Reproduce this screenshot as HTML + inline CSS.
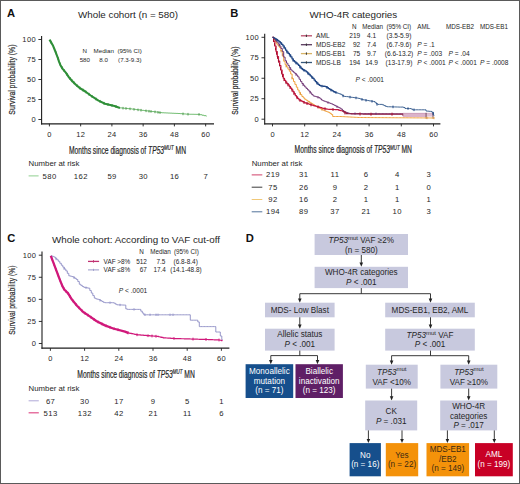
<!DOCTYPE html>
<html><head><meta charset="utf-8"><style>
html,body{margin:0;padding:0;background:#fff;}
#w{position:relative;width:518px;height:482px;border:1px solid #5a5a5a;overflow:hidden;background:#fff;}
svg{position:absolute;left:-1px;top:-1px;}
text{font-family:"Liberation Sans", sans-serif;}
</style></head><body><div id="w">
<svg width="520" height="484" viewBox="0 0 520 484" font-family='"Liberation Sans", sans-serif'>
<text x="7.00" y="17.20" font-size="11.2" text-anchor="start" fill="#111" font-weight="bold" >A</text>
<text x="128.00" y="18.40" font-size="9.8" text-anchor="middle" fill="#262626" >Whole cohort (n = 580)</text>
<line x1="41.60" y1="36.00" x2="41.60" y2="124.40" stroke="#1e1e1e" stroke-width="1.1"/>
<line x1="41.10" y1="123.80" x2="214.00" y2="123.80" stroke="#1e1e1e" stroke-width="1.2"/>
<line x1="38.40" y1="39.50" x2="41.60" y2="39.50" stroke="#1e1e1e" stroke-width="0.9"/>
<text x="35.95" y="42.00" font-size="7.5" text-anchor="end" fill="#262626" letter-spacing="0.35">100</text>
<line x1="38.40" y1="59.50" x2="41.60" y2="59.50" stroke="#1e1e1e" stroke-width="0.9"/>
<text x="35.95" y="62.00" font-size="7.5" text-anchor="end" fill="#262626" letter-spacing="0.35">75</text>
<line x1="38.40" y1="79.50" x2="41.60" y2="79.50" stroke="#1e1e1e" stroke-width="0.9"/>
<text x="35.95" y="82.00" font-size="7.5" text-anchor="end" fill="#262626" letter-spacing="0.35">50</text>
<line x1="38.40" y1="99.50" x2="41.60" y2="99.50" stroke="#1e1e1e" stroke-width="0.9"/>
<text x="35.95" y="102.00" font-size="7.5" text-anchor="end" fill="#262626" letter-spacing="0.35">25</text>
<line x1="38.40" y1="119.50" x2="41.60" y2="119.50" stroke="#1e1e1e" stroke-width="0.9"/>
<text x="35.95" y="122.00" font-size="7.5" text-anchor="end" fill="#262626" letter-spacing="0.35">0</text>
<line x1="49.40" y1="123.80" x2="49.40" y2="126.40" stroke="#1e1e1e" stroke-width="0.9"/>
<text x="49.58" y="137.20" font-size="7.5" text-anchor="middle" fill="#262626" letter-spacing="0.35">0</text>
<line x1="80.65" y1="123.80" x2="80.65" y2="126.40" stroke="#1e1e1e" stroke-width="0.9"/>
<text x="80.83" y="137.20" font-size="7.5" text-anchor="middle" fill="#262626" letter-spacing="0.35">12</text>
<line x1="111.90" y1="123.80" x2="111.90" y2="126.40" stroke="#1e1e1e" stroke-width="0.9"/>
<text x="112.08" y="137.20" font-size="7.5" text-anchor="middle" fill="#262626" letter-spacing="0.35">24</text>
<line x1="143.15" y1="123.80" x2="143.15" y2="126.40" stroke="#1e1e1e" stroke-width="0.9"/>
<text x="143.33" y="137.20" font-size="7.5" text-anchor="middle" fill="#262626" letter-spacing="0.35">36</text>
<line x1="174.40" y1="123.80" x2="174.40" y2="126.40" stroke="#1e1e1e" stroke-width="0.9"/>
<text x="174.58" y="137.20" font-size="7.5" text-anchor="middle" fill="#262626" letter-spacing="0.35">48</text>
<line x1="205.65" y1="123.80" x2="205.65" y2="126.40" stroke="#1e1e1e" stroke-width="0.9"/>
<text x="205.83" y="137.20" font-size="7.5" text-anchor="middle" fill="#262626" letter-spacing="0.35">60</text>
<text transform="translate(14.70,79.60) rotate(-90)" x="0" y="0" font-size="8.8" text-anchor="middle" fill="#262626" stroke="#262626" stroke-width="0.2" textLength="70.20" lengthAdjust="spacingAndGlyphs">Survival probability (%)</text>
<text x="69.00" y="154.00" font-size="10" fill="#262626" stroke="#262626" stroke-width="0.2" textLength="117.00" lengthAdjust="spacingAndGlyphs">Months since diagnosis of <tspan font-style="italic">TP53</tspan><tspan font-style="italic" font-size="6.6" dy="-3.6">MUT</tspan><tspan dy="3.6"> MN</tspan></text>
<polyline points="49.50,39.60 53.10,45.80 55.80,52.50 57.80,57.80 59.10,61.90 60.50,65.20 62.50,68.60 65.80,72.60 68.50,76.70 71.90,80.70 75.90,84.70 79.90,88.10 85.30,91.50 90.70,95.50 94.70,98.20 98.50,100.60 105.00,103.80 114.40,106.00 120.00,107.90" fill="none" stroke="#2f8f38" stroke-width="2.1" stroke-linejoin="round" />
<polyline points="120.00,107.90 122.00,107.90 122.00,108.09 124.00,108.09 124.00,108.28 126.00,108.28 126.00,108.46 128.00,108.46 128.00,108.65 130.00,108.65 130.00,108.85 132.00,108.85 132.00,109.10 134.00,109.10 134.00,109.35 136.00,109.35 136.00,109.60 138.00,109.60 138.00,109.85 140.00,109.85 140.00,110.10 142.00,110.10 142.00,110.35 144.00,110.35 144.00,110.60 146.00,110.60 146.00,110.85 148.00,110.85 148.00,111.10 150.00,111.10 150.00,111.34 152.00,111.34 152.00,111.57 154.00,111.57 154.00,111.81 156.00,111.81 156.00,112.04 158.00,112.04 158.00,112.33 160.00,112.33 160.00,112.64 162.00,112.64 162.00,112.77 164.00,112.77 164.00,112.87 166.00,112.87 166.00,112.96 168.00,112.96 168.00,113.05 170.00,113.05 170.00,113.14 172.00,113.14 172.00,113.24 174.00,113.24 174.00,113.33 176.00,113.33 176.00,113.42 178.00,113.42 178.00,113.52 180.00,113.52 180.00,113.67 182.00,113.67 182.00,113.81 184.00,113.81 184.00,113.96 186.00,113.96 186.00,114.11 188.00,114.11 188.00,114.21 190.00,114.21 190.00,114.25 192.00,114.25 192.00,114.28 194.00,114.28 194.00,114.32 196.00,114.32 196.00,114.35 198.00,114.35 198.00,114.39 200.00,114.39 200.00,114.71 202.00,114.71 202.00,115.22 204.00,115.22 204.00,115.67 206.00,115.67 206.00,116.09 206.50,116.09 206.50,116.20" fill="none" stroke="#66b866" stroke-width="0.9" stroke-linejoin="round" />
<line x1="51.00" y1="40.78" x2="51.00" y2="43.58" stroke="#2f8f38" stroke-width="1.0"/>
<line x1="53.50" y1="45.39" x2="53.50" y2="48.19" stroke="#2f8f38" stroke-width="1.0"/>
<line x1="56.00" y1="51.63" x2="56.00" y2="54.43" stroke="#2f8f38" stroke-width="1.0"/>
<line x1="58.00" y1="57.03" x2="58.00" y2="59.83" stroke="#2f8f38" stroke-width="1.0"/>
<line x1="60.00" y1="62.62" x2="60.00" y2="65.42" stroke="#2f8f38" stroke-width="1.0"/>
<line x1="62.00" y1="66.35" x2="62.00" y2="69.15" stroke="#2f8f38" stroke-width="1.0"/>
<line x1="64.00" y1="69.02" x2="64.00" y2="71.82" stroke="#2f8f38" stroke-width="1.0"/>
<line x1="67.00" y1="73.02" x2="67.00" y2="75.82" stroke="#2f8f38" stroke-width="1.0"/>
<line x1="70.00" y1="77.06" x2="70.00" y2="79.86" stroke="#2f8f38" stroke-width="1.0"/>
<line x1="72.00" y1="79.40" x2="72.00" y2="82.20" stroke="#2f8f38" stroke-width="1.0"/>
<line x1="74.00" y1="81.40" x2="74.00" y2="84.20" stroke="#2f8f38" stroke-width="1.0"/>
<line x1="77.00" y1="84.23" x2="77.00" y2="87.03" stroke="#2f8f38" stroke-width="1.0"/>
<line x1="80.00" y1="86.76" x2="80.00" y2="89.56" stroke="#2f8f38" stroke-width="1.0"/>
<line x1="83.00" y1="88.65" x2="83.00" y2="91.45" stroke="#2f8f38" stroke-width="1.0"/>
<line x1="86.00" y1="90.62" x2="86.00" y2="93.42" stroke="#2f8f38" stroke-width="1.0"/>
<line x1="89.00" y1="92.84" x2="89.00" y2="95.64" stroke="#2f8f38" stroke-width="1.0"/>
<line x1="92.00" y1="94.98" x2="92.00" y2="97.78" stroke="#2f8f38" stroke-width="1.0"/>
<line x1="96.00" y1="97.62" x2="96.00" y2="100.42" stroke="#2f8f38" stroke-width="1.0"/>
<line x1="100.00" y1="99.94" x2="100.00" y2="102.74" stroke="#2f8f38" stroke-width="1.0"/>
<line x1="104.00" y1="101.91" x2="104.00" y2="104.71" stroke="#2f8f38" stroke-width="1.0"/>
<line x1="108.00" y1="103.10" x2="108.00" y2="105.90" stroke="#2f8f38" stroke-width="1.0"/>
<line x1="112.00" y1="104.04" x2="112.00" y2="106.84" stroke="#2f8f38" stroke-width="1.0"/>
<line x1="116.00" y1="105.14" x2="116.00" y2="107.94" stroke="#2f8f38" stroke-width="1.0"/>
<line x1="123.00" y1="106.88" x2="123.00" y2="109.48" stroke="#3a8a3a" stroke-width="0.8"/>
<line x1="126.00" y1="107.16" x2="126.00" y2="109.76" stroke="#3a8a3a" stroke-width="0.8"/>
<line x1="130.00" y1="107.55" x2="130.00" y2="110.15" stroke="#3a8a3a" stroke-width="0.8"/>
<line x1="134.00" y1="108.05" x2="134.00" y2="110.65" stroke="#3a8a3a" stroke-width="0.8"/>
<line x1="138.00" y1="108.55" x2="138.00" y2="111.15" stroke="#3a8a3a" stroke-width="0.8"/>
<line x1="141.00" y1="108.92" x2="141.00" y2="111.52" stroke="#3a8a3a" stroke-width="0.8"/>
<line x1="146.00" y1="109.55" x2="146.00" y2="112.15" stroke="#3a8a3a" stroke-width="0.8"/>
<line x1="149.00" y1="109.92" x2="149.00" y2="112.52" stroke="#3a8a3a" stroke-width="0.8"/>
<line x1="151.00" y1="110.16" x2="151.00" y2="112.76" stroke="#3a8a3a" stroke-width="0.8"/>
<line x1="155.00" y1="110.62" x2="155.00" y2="113.22" stroke="#3a8a3a" stroke-width="0.8"/>
<line x1="158.00" y1="111.03" x2="158.00" y2="113.63" stroke="#3a8a3a" stroke-width="0.8"/>
<line x1="160.00" y1="111.34" x2="160.00" y2="113.94" stroke="#3a8a3a" stroke-width="0.8"/>
<line x1="183.00" y1="112.59" x2="183.00" y2="115.19" stroke="#3a8a3a" stroke-width="0.8"/>
<line x1="188.00" y1="112.91" x2="188.00" y2="115.51" stroke="#3a8a3a" stroke-width="0.8"/>
<line x1="199.00" y1="113.15" x2="199.00" y2="115.75" stroke="#3a8a3a" stroke-width="0.8"/>
<text x="84.80" y="53.20" font-size="6.2" text-anchor="middle" fill="#262626" >N</text>
<text x="103.70" y="53.20" font-size="6.2" text-anchor="middle" fill="#262626" >Median</text>
<text x="129.60" y="53.20" font-size="6.2" text-anchor="middle" fill="#262626" >(95% CI)</text>
<text x="84.80" y="61.60" font-size="6.2" text-anchor="middle" fill="#262626" >580</text>
<text x="103.60" y="61.60" font-size="6.2" text-anchor="middle" fill="#262626" >8.0</text>
<text x="129.80" y="61.60" font-size="6.2" text-anchor="middle" fill="#262626" >(7.3-9.3)</text>
<text x="28.60" y="166.30" font-size="7.8" text-anchor="start" fill="#262626" >Number at risk</text>
<line x1="28.60" y1="175.90" x2="38.60" y2="175.90" stroke="#8fcf8f" stroke-width="1.0"/>
<text x="49.60" y="178.90" font-size="7.7" text-anchor="middle" fill="#262626" letter-spacing="0.4">580</text>
<text x="80.85" y="178.90" font-size="7.7" text-anchor="middle" fill="#262626" letter-spacing="0.4">162</text>
<text x="112.10" y="178.90" font-size="7.7" text-anchor="middle" fill="#262626" letter-spacing="0.4">59</text>
<text x="143.35" y="178.90" font-size="7.7" text-anchor="middle" fill="#262626" letter-spacing="0.4">30</text>
<text x="174.60" y="178.90" font-size="7.7" text-anchor="middle" fill="#262626" letter-spacing="0.4">16</text>
<text x="205.85" y="178.90" font-size="7.7" text-anchor="middle" fill="#262626" letter-spacing="0.4">7</text>
<text x="230.20" y="17.40" font-size="11.2" text-anchor="start" fill="#111" font-weight="bold" >B</text>
<text x="353.40" y="17.70" font-size="9.8" text-anchor="middle" fill="#262626" >WHO-4R categories</text>
<line x1="264.70" y1="33.70" x2="264.70" y2="124.40" stroke="#1e1e1e" stroke-width="1.1"/>
<line x1="264.20" y1="123.80" x2="440.40" y2="123.80" stroke="#1e1e1e" stroke-width="1.2"/>
<line x1="261.50" y1="37.30" x2="264.70" y2="37.30" stroke="#1e1e1e" stroke-width="0.9"/>
<text x="259.05" y="39.80" font-size="7.5" text-anchor="end" fill="#262626" letter-spacing="0.35">100</text>
<line x1="261.50" y1="57.78" x2="264.70" y2="57.78" stroke="#1e1e1e" stroke-width="0.9"/>
<text x="259.05" y="60.28" font-size="7.5" text-anchor="end" fill="#262626" letter-spacing="0.35">75</text>
<line x1="261.50" y1="78.25" x2="264.70" y2="78.25" stroke="#1e1e1e" stroke-width="0.9"/>
<text x="259.05" y="80.75" font-size="7.5" text-anchor="end" fill="#262626" letter-spacing="0.35">50</text>
<line x1="261.50" y1="98.73" x2="264.70" y2="98.73" stroke="#1e1e1e" stroke-width="0.9"/>
<text x="259.05" y="101.23" font-size="7.5" text-anchor="end" fill="#262626" letter-spacing="0.35">25</text>
<line x1="261.50" y1="119.20" x2="264.70" y2="119.20" stroke="#1e1e1e" stroke-width="0.9"/>
<text x="259.05" y="121.70" font-size="7.5" text-anchor="end" fill="#262626" letter-spacing="0.35">0</text>
<line x1="272.50" y1="123.80" x2="272.50" y2="126.40" stroke="#1e1e1e" stroke-width="0.9"/>
<text x="272.68" y="137.20" font-size="7.5" text-anchor="middle" fill="#262626" letter-spacing="0.35">0</text>
<line x1="304.70" y1="123.80" x2="304.70" y2="126.40" stroke="#1e1e1e" stroke-width="0.9"/>
<text x="304.88" y="137.20" font-size="7.5" text-anchor="middle" fill="#262626" letter-spacing="0.35">12</text>
<line x1="336.90" y1="123.80" x2="336.90" y2="126.40" stroke="#1e1e1e" stroke-width="0.9"/>
<text x="337.08" y="137.20" font-size="7.5" text-anchor="middle" fill="#262626" letter-spacing="0.35">24</text>
<line x1="369.10" y1="123.80" x2="369.10" y2="126.40" stroke="#1e1e1e" stroke-width="0.9"/>
<text x="369.28" y="137.20" font-size="7.5" text-anchor="middle" fill="#262626" letter-spacing="0.35">36</text>
<line x1="401.30" y1="123.80" x2="401.30" y2="126.40" stroke="#1e1e1e" stroke-width="0.9"/>
<text x="401.48" y="137.20" font-size="7.5" text-anchor="middle" fill="#262626" letter-spacing="0.35">48</text>
<line x1="433.50" y1="123.80" x2="433.50" y2="126.40" stroke="#1e1e1e" stroke-width="0.9"/>
<text x="433.68" y="137.20" font-size="7.5" text-anchor="middle" fill="#262626" letter-spacing="0.35">60</text>
<text transform="translate(237.60,80.60) rotate(-90)" x="0" y="0" font-size="8.8" text-anchor="middle" fill="#262626" stroke="#262626" stroke-width="0.2" textLength="68.20" lengthAdjust="spacingAndGlyphs">Survival probability (%)</text>
<text x="294.60" y="153.20" font-size="10" fill="#262626" stroke="#262626" stroke-width="0.2" textLength="117.40" lengthAdjust="spacingAndGlyphs">Months since diagnosis of <tspan font-style="italic">TP53</tspan><tspan font-style="italic" font-size="6.6" dy="-3.6">MUT</tspan><tspan dy="3.6"> MN</tspan></text>
<rect x="402.80" y="113.00" width="23.30" height="4.10" fill="#dbb3ca"/>
<rect x="426.10" y="113.40" width="7.00" height="3.20" fill="#e2c2d4"/>
<line x1="402.80" y1="113.30" x2="433.00" y2="113.30" stroke="#c58fae" stroke-width="0.6"/>
<line x1="402.80" y1="113.60" x2="402.80" y2="115.80" stroke="#7a2040" stroke-width="0.8"/>
<line x1="426.10" y1="112.80" x2="426.10" y2="118.60" stroke="#5a3040" stroke-width="0.8"/>
<line x1="433.00" y1="112.80" x2="433.00" y2="118.60" stroke="#5a3040" stroke-width="0.8"/>
<polyline points="272.50,37.30 273.90,37.30 273.90,39.60 275.30,39.60 275.30,41.90 276.70,41.90 276.70,44.20 278.10,44.20 278.10,45.87 279.50,45.87 279.50,47.54 280.90,47.54 280.90,50.89 282.30,50.89 282.30,56.14 283.70,56.14 283.70,61.22 285.10,61.22 285.10,64.65 286.50,64.65 286.50,66.90 287.90,66.90 287.90,69.15 289.30,69.15 289.30,71.22 290.70,71.22 290.70,74.01 292.10,74.01 292.10,78.57 293.50,78.57 293.50,81.57 294.90,81.57 294.90,84.40 296.30,84.40 296.30,87.20 297.70,87.20 297.70,90.00 299.10,90.00 299.10,92.32 300.50,92.32 300.50,94.64 301.90,94.64 301.90,96.50 303.30,96.50 303.30,97.90 304.70,97.90 304.70,99.27 306.10,99.27 306.10,100.21 307.50,100.21 307.50,101.16 308.90,101.16 308.90,102.06 310.30,102.06 310.30,102.92 311.70,102.92 311.70,103.78 313.10,103.78 313.10,104.64 314.50,104.64 314.50,105.49 315.90,105.49 315.90,106.33 317.30,106.33 317.30,107.18 318.70,107.18 318.70,108.00 320.10,108.00 320.10,108.71 321.50,108.71 321.50,109.43 322.90,109.43 322.90,110.14 324.30,110.14 324.30,110.84 325.70,110.84 325.70,111.35 327.10,111.35 327.10,111.87 328.50,111.87 328.50,112.39 329.90,112.39 329.90,113.37 331.30,113.37 331.30,114.48 332.70,114.48 332.70,116.50 334.10,116.50 334.10,116.50 335.50,116.50 335.50,116.50 336.90,116.50 336.90,116.50 338.30,116.50 338.30,116.50 339.70,116.50 339.70,116.50 341.10,116.50 341.10,116.56 342.50,116.56 342.50,116.64 343.90,116.64 343.90,116.71 345.30,116.71 345.30,116.79 346.70,116.79 346.70,116.86 348.10,116.86 348.10,116.94 349.50,116.94 349.50,117.01 350.90,117.01 350.90,117.09 352.30,117.09 352.30,117.16 353.70,117.16 353.70,117.24 355.10,117.24 355.10,117.32 356.50,117.32 356.50,117.39 357.90,117.39 357.90,117.47 359.30,117.47 359.30,117.51 360.70,117.51 360.70,117.51 362.10,117.51 362.10,117.52 363.50,117.52 363.50,117.53 364.90,117.53 364.90,117.54 366.30,117.54 366.30,117.55 367.70,117.55 367.70,117.56 369.10,117.56 369.10,117.57 370.50,117.57 370.50,117.58 371.90,117.58 371.90,117.59 373.30,117.59 373.30,117.60 374.70,117.60 374.70,117.61 376.10,117.61 376.10,117.62 377.50,117.62 377.50,117.63 378.90,117.63 378.90,117.64 380.30,117.64 380.30,117.64 381.70,117.64 381.70,117.65 383.10,117.65 383.10,117.66 384.50,117.66 384.50,117.67 385.90,117.67 385.90,117.68 387.30,117.68 387.30,117.69 388.70,117.69 388.70,117.70 390.10,117.70 390.10,117.71 391.50,117.71 391.50,117.72 392.90,117.72 392.90,117.73 394.30,117.73 394.30,117.74 395.70,117.74 395.70,117.75 397.10,117.75 397.10,117.76 398.50,117.76 398.50,117.76 399.90,117.76 399.90,117.77 401.30,117.77 401.30,117.78 402.70,117.78 402.70,117.79 404.10,117.79 404.10,117.80 405.50,117.80 405.50,117.81 406.90,117.81 406.90,117.82 408.30,117.82 408.30,117.83 409.70,117.83 409.70,117.84 411.10,117.84 411.10,117.85 412.50,117.85 412.50,117.86 413.90,117.86 413.90,117.87 415.30,117.87 415.30,117.88 416.70,117.88 416.70,117.89 418.10,117.89 418.10,117.89 419.50,117.89 419.50,117.90 420.90,117.90 420.90,117.91 422.30,117.91 422.30,117.92 423.70,117.92 423.70,117.93 425.10,117.93 425.10,117.94 426.50,117.94 426.50,117.95 427.90,117.95 427.90,117.96 429.30,117.96 429.30,117.97 430.70,117.97 430.70,117.98 432.10,117.98 432.10,117.99 433.50,117.99 433.50,118.00 434.00,118.00 434.00,118.00" fill="none" stroke="#f0a23c" stroke-width="1.0" stroke-linejoin="round" />
<polyline points="272.50,37.30 273.90,37.30 273.90,38.91 275.30,38.91 275.30,40.51 276.70,40.51 276.70,42.12 278.10,42.12 278.10,43.80 279.50,43.80 279.50,45.93 280.90,45.93 280.90,48.43 282.30,48.43 282.30,51.60 283.70,51.60 283.70,57.12 285.10,57.12 285.10,60.73 286.50,60.73 286.50,63.20 287.90,63.20 287.90,65.36 289.30,65.36 289.30,67.62 290.70,67.62 290.70,69.88 292.10,69.88 292.10,71.17 293.50,71.17 293.50,72.30 294.90,72.30 294.90,73.60 296.30,73.60 296.30,75.00 297.70,75.00 297.70,76.83 299.10,76.83 299.10,79.24 300.50,79.24 300.50,81.43 301.90,81.43 301.90,83.50 303.30,83.50 303.30,85.23 304.70,85.23 304.70,86.90 306.10,86.90 306.10,88.40 307.50,88.40 307.50,89.80 308.90,89.80 308.90,91.20 310.30,91.20 310.30,92.89 311.70,92.89 311.70,94.59 313.10,94.59 313.10,95.92 314.50,95.92 314.50,96.33 315.90,96.33 315.90,96.74 317.30,96.74 317.30,97.15 318.70,97.15 318.70,97.67 320.10,97.67 320.10,98.86 321.50,98.86 321.50,100.06 322.90,100.06 322.90,100.77 324.30,100.77 324.30,101.29 325.70,101.29 325.70,101.80 327.10,101.80 327.10,102.32 328.50,102.32 328.50,102.82 329.90,102.82 329.90,103.33 331.30,103.33 331.30,103.85 332.70,103.85 332.70,104.58 334.10,104.58 334.10,105.31 335.50,105.31 335.50,106.04 336.90,106.04 336.90,106.75 338.30,106.75 338.30,107.45 339.70,107.45 339.70,108.15 341.10,108.15 341.10,109.16 342.50,109.16 342.50,110.48 343.90,110.48 343.90,111.73 345.30,111.73 345.30,112.19 346.70,112.19 346.70,112.65 348.10,112.65 348.10,113.11 349.50,113.11 349.50,113.57 350.90,113.57 350.90,113.61 352.30,113.61 352.30,113.62 353.70,113.62 353.70,113.62 355.10,113.62 355.10,113.63 356.50,113.63 356.50,113.64 357.90,113.64 357.90,113.65 359.30,113.65 359.30,113.65 360.70,113.65 360.70,113.66 362.10,113.66 362.10,113.67 363.50,113.67 363.50,113.68 364.90,113.68 364.90,113.69 366.30,113.69 366.30,113.69 367.70,113.69 367.70,113.70 369.10,113.70 369.10,113.71 370.50,113.71 370.50,113.72 371.90,113.72 371.90,113.73 373.30,113.73 373.30,113.73 374.70,113.73 374.70,113.74 376.10,113.74 376.10,113.75 377.50,113.75 377.50,113.76 378.90,113.76 378.90,113.77 380.30,113.77 380.30,113.77 381.70,113.77 381.70,113.78 383.10,113.78 383.10,113.79 384.50,113.79 384.50,113.80 385.90,113.80 385.90,113.80 387.30,113.80 387.30,113.81 388.70,113.81 388.70,113.82 390.10,113.82 390.10,113.83 391.50,113.83 391.50,113.84 392.90,113.84 392.90,113.84 394.30,113.84 394.30,113.85 395.70,113.85 395.70,113.86 397.10,113.86 397.10,113.87 398.50,113.87 398.50,113.88 399.90,113.88 399.90,113.88 401.30,113.88 401.30,113.89 402.70,113.89 402.70,113.90 402.80,113.90 402.80,113.90" fill="none" stroke="#6e3574" stroke-width="1.0" stroke-linejoin="round" />
<polyline points="272.50,37.30 273.70,37.30 273.70,41.25 274.90,41.25 274.90,46.11 276.10,46.11 276.10,51.60 277.30,51.60 277.30,56.53 278.50,56.53 278.50,61.18 279.70,61.18 279.70,65.54 280.90,65.54 280.90,70.06 282.10,70.06 282.10,74.33 283.30,74.33 283.30,78.25 284.50,78.25 284.50,80.38 285.70,80.38 285.70,82.16 286.90,82.16 286.90,83.61 288.10,83.61 288.10,84.95 289.30,84.95 289.30,86.48 290.50,86.48 290.50,88.11 291.70,88.11 291.70,89.73 292.90,89.73 292.90,91.66 294.10,91.66 294.10,93.65 295.30,93.65 295.30,95.63 296.50,95.63 296.50,97.09 297.70,97.09 297.70,98.51 298.90,98.51 298.90,99.85 300.10,99.85 300.10,100.45 301.30,100.45 301.30,101.05 302.50,101.05 302.50,101.65 303.70,101.65 303.70,102.25 304.90,102.25 304.90,102.80 306.10,102.80 306.10,103.20 307.30,103.20 307.30,103.60 308.50,103.60 308.50,104.00 309.70,104.00 309.70,104.40 310.90,104.40 310.90,104.80 312.10,104.80 312.10,105.18 313.30,105.18 313.30,105.53 314.50,105.53 314.50,105.88 315.70,105.88 315.70,106.23 316.90,106.23 316.90,106.58 318.10,106.58 318.10,106.95 319.30,106.95 319.30,107.32 320.50,107.32 320.50,107.69 321.70,107.69 321.70,108.07 322.90,108.07 322.90,108.44 324.10,108.44 324.10,108.66 325.30,108.66 325.30,108.85 326.50,108.85 326.50,109.04 327.70,109.04 327.70,109.23 328.90,109.23 328.90,109.40 330.10,109.40 330.10,109.43 331.30,109.43 331.30,109.46 332.50,109.46 332.50,109.49 333.70,109.49 333.70,109.52 334.90,109.52 334.90,109.55 336.10,109.55 336.10,109.58 337.30,109.58 337.30,109.72 338.50,109.72 338.50,110.07 339.70,110.07 339.70,110.42 340.90,110.42 340.90,110.77 342.00,110.77 342.00,111.09" fill="none" stroke="#c4163f" stroke-width="1.2" stroke-linejoin="round" />
<polyline points="342.00,111.09 343.50,111.09 343.50,111.88 345.00,111.88 345.00,112.97 346.50,112.97 346.50,113.71 348.00,113.71 348.00,113.74 349.50,113.74 349.50,113.77 351.00,113.77 351.00,113.80 352.50,113.80 352.50,113.83 354.00,113.83 354.00,113.86 355.50,113.86 355.50,113.89 357.00,113.89 357.00,113.92 358.50,113.92 358.50,113.95 360.00,113.95 360.00,113.98 361.50,113.98 361.50,114.01 363.00,114.01 363.00,114.04 364.50,114.04 364.50,114.07 366.00,114.07 366.00,114.10 367.50,114.10 367.50,114.13 369.00,114.13 369.00,114.16 370.50,114.16 370.50,114.19 372.00,114.19 372.00,114.20 373.50,114.20 373.50,114.20 375.00,114.20 375.00,114.20 376.50,114.20 376.50,114.20 378.00,114.20 378.00,114.20 379.50,114.20 379.50,114.20 381.00,114.20 381.00,114.20 382.50,114.20 382.50,114.20 384.00,114.20 384.00,114.20 385.50,114.20 385.50,114.20 387.00,114.20 387.00,114.20 388.50,114.20 388.50,114.20 390.00,114.20 390.00,114.20 391.50,114.20 391.50,114.20 393.00,114.20 393.00,114.20 394.50,114.20 394.50,114.20 396.00,114.20 396.00,114.20 397.50,114.20 397.50,114.20 399.00,114.20 399.00,114.20 400.50,114.20 400.50,114.20 402.00,114.20 402.00,114.20 402.80,114.20 402.80,114.20" fill="none" stroke="#8e1c44" stroke-width="1.2" stroke-linejoin="round" />
<polyline points="272.50,37.30 273.80,37.30 273.80,38.07 275.10,38.07 275.10,38.85 276.40,38.85 276.40,39.62 277.70,39.62 277.70,40.64 279.00,40.64 279.00,41.73 280.30,41.73 280.30,42.82 281.60,42.82 281.60,44.33 282.90,44.33 282.90,45.88 284.20,45.88 284.20,47.83 285.50,47.83 285.50,50.12 286.80,50.12 286.80,51.93 288.10,51.93 288.10,53.44 289.40,53.44 289.40,54.95 290.70,54.95 290.70,56.81 292.00,56.81 292.00,58.78 293.30,58.78 293.30,60.75 294.60,60.75 294.60,61.91 295.90,61.91 295.90,63.00 297.20,63.00 297.20,64.10 298.50,64.10 298.50,65.43 299.80,65.43 299.80,66.98 301.10,66.98 301.10,68.52 302.40,68.52 302.40,69.50 303.70,69.50 303.70,70.23 305.00,70.23 305.00,70.95 306.30,70.95 306.30,71.90 307.60,71.90 307.60,73.20 308.90,73.20 308.90,74.50 310.20,74.50 310.20,75.80 311.50,75.80 311.50,77.10 312.80,77.10 312.80,78.45 314.10,78.45 314.10,80.04 315.40,80.04 315.40,81.63 316.70,81.63 316.70,83.00 318.00,83.00 318.00,84.30 319.30,84.30 319.30,85.33 320.60,85.33 320.60,85.91 321.90,85.91 321.90,86.12 323.20,86.12 323.20,86.26 324.50,86.26 324.50,86.40 325.80,86.40 325.80,86.77 327.10,86.77 327.10,87.65 328.40,87.65 328.40,88.53 329.70,88.53 329.70,89.36 331.00,89.36 331.00,90.16 332.30,90.16 332.30,90.96 333.60,90.96 333.60,91.74 334.90,91.74 334.90,92.25 336.00,92.25 336.00,92.68" fill="none" stroke="#1f4584" stroke-width="1.3" stroke-linejoin="round" />
<polyline points="336.00,92.68 337.50,92.68 337.50,93.27 339.00,93.27 339.00,93.74 340.50,93.74 340.50,94.33 342.00,94.33 342.00,95.31 343.50,95.31 343.50,96.30 345.00,96.30 345.00,96.47 346.50,96.47 346.50,96.64 348.00,96.64 348.00,96.84 349.50,96.84 349.50,97.05 351.00,97.05 351.00,97.26 352.50,97.26 352.50,97.47 354.00,97.47 354.00,97.67 355.50,97.67 355.50,97.87 357.00,97.87 357.00,98.06 358.50,98.06 358.50,98.46 360.00,98.46 360.00,98.91 361.50,98.91 361.50,99.35 363.00,99.35 363.00,99.80 364.50,99.80 364.50,100.06 366.00,100.06 366.00,100.31 367.50,100.31 367.50,100.57 369.00,100.57 369.00,100.83 370.50,100.83 370.50,101.07 372.00,101.07 372.00,101.29 373.50,101.29 373.50,101.50 375.00,101.50 375.00,102.74 376.50,102.74 376.50,103.99 378.00,103.99 378.00,104.40 379.50,104.40 379.50,104.40 381.00,104.40 381.00,104.40 382.50,104.40 382.50,104.89 384.00,104.89 384.00,105.62 385.50,105.62 385.50,106.36 387.00,106.36 387.00,106.72 388.50,106.72 388.50,106.77 390.00,106.77 390.00,106.81 391.50,106.81 391.50,106.85 393.00,106.85 393.00,106.90 394.50,106.90 394.50,106.94 396.00,106.94 396.00,106.98 397.50,106.98 397.50,107.03 399.00,107.03 399.00,107.07 400.50,107.07 400.50,107.08 402.00,107.08 402.00,107.04 403.50,107.04 403.50,107.50 405.00,107.50 405.00,108.51 406.50,108.51 406.50,108.54 408.00,108.54 408.00,108.56 409.50,108.56 409.50,108.58 411.00,108.58 411.00,108.97 412.50,108.97 412.50,109.80 414.00,109.80 414.00,109.80 415.50,109.80 415.50,109.80 417.00,109.80 417.00,109.80 418.50,109.80 418.50,109.80 420.00,109.80 420.00,109.80 421.50,109.80 421.50,109.80 423.00,109.80 423.00,109.80 424.50,109.80 424.50,109.80 426.00,109.80 426.00,111.03 427.50,111.03 427.50,111.16 429.00,111.16 429.00,111.29 430.50,111.29 430.50,111.43 432.00,111.43 432.00,112.36 433.50,112.36 433.50,114.82 433.90,114.82 433.90,115.80" fill="none" stroke="#3a6090" stroke-width="0.95" stroke-linejoin="round" />
<line x1="273.50" y1="39.09" x2="273.50" y2="42.09" stroke="#a8102f" stroke-width="1.0"/>
<line x1="274.50" y1="42.77" x2="274.50" y2="45.77" stroke="#a8102f" stroke-width="1.0"/>
<line x1="275.50" y1="47.35" x2="275.50" y2="50.35" stroke="#a8102f" stroke-width="1.0"/>
<line x1="276.50" y1="51.74" x2="276.50" y2="54.74" stroke="#a8102f" stroke-width="1.0"/>
<line x1="277.50" y1="55.86" x2="277.50" y2="58.86" stroke="#a8102f" stroke-width="1.0"/>
<line x1="278.50" y1="59.68" x2="278.50" y2="62.68" stroke="#a8102f" stroke-width="1.0"/>
<line x1="279.50" y1="63.31" x2="279.50" y2="66.31" stroke="#a8102f" stroke-width="1.0"/>
<line x1="280.50" y1="67.04" x2="280.50" y2="70.04" stroke="#a8102f" stroke-width="1.0"/>
<line x1="281.50" y1="70.82" x2="281.50" y2="73.82" stroke="#a8102f" stroke-width="1.0"/>
<line x1="282.50" y1="74.14" x2="282.50" y2="77.14" stroke="#a8102f" stroke-width="1.0"/>
<line x1="284.00" y1="78.14" x2="284.00" y2="81.14" stroke="#a8102f" stroke-width="1.0"/>
<line x1="286.00" y1="81.10" x2="286.00" y2="84.10" stroke="#a8102f" stroke-width="1.0"/>
<line x1="288.00" y1="83.34" x2="288.00" y2="86.34" stroke="#a8102f" stroke-width="1.0"/>
<line x1="290.00" y1="85.93" x2="290.00" y2="88.93" stroke="#a8102f" stroke-width="1.0"/>
<line x1="292.00" y1="88.67" x2="292.00" y2="91.67" stroke="#a8102f" stroke-width="1.0"/>
<line x1="294.00" y1="91.98" x2="294.00" y2="94.98" stroke="#a8102f" stroke-width="1.0"/>
<line x1="297.00" y1="96.18" x2="297.00" y2="99.18" stroke="#a8102f" stroke-width="1.0"/>
<line x1="300.00" y1="98.90" x2="300.00" y2="101.90" stroke="#a8102f" stroke-width="1.0"/>
<line x1="304.00" y1="100.90" x2="304.00" y2="103.90" stroke="#a8102f" stroke-width="1.0"/>
<line x1="307.00" y1="102.00" x2="307.00" y2="105.00" stroke="#a8102f" stroke-width="1.0"/>
<line x1="311.00" y1="103.33" x2="311.00" y2="106.33" stroke="#a8102f" stroke-width="1.0"/>
<line x1="318.00" y1="105.42" x2="318.00" y2="108.42" stroke="#a8102f" stroke-width="1.0"/>
<line x1="325.00" y1="107.30" x2="325.00" y2="110.30" stroke="#a8102f" stroke-width="1.0"/>
<line x1="333.00" y1="108.00" x2="333.00" y2="111.00" stroke="#a8102f" stroke-width="1.0"/>
<line x1="345.00" y1="111.47" x2="345.00" y2="114.47" stroke="#a8102f" stroke-width="1.0"/>
<line x1="360.00" y1="112.48" x2="360.00" y2="115.48" stroke="#a8102f" stroke-width="1.0"/>
<line x1="371.00" y1="112.70" x2="371.00" y2="115.70" stroke="#a8102f" stroke-width="1.0"/>
<line x1="392.00" y1="112.70" x2="392.00" y2="115.70" stroke="#a8102f" stroke-width="1.0"/>
<line x1="277.00" y1="38.75" x2="277.00" y2="41.35" stroke="#1f4584" stroke-width="0.9"/>
<line x1="281.00" y1="42.32" x2="281.00" y2="44.92" stroke="#1f4584" stroke-width="0.9"/>
<line x1="284.00" y1="46.18" x2="284.00" y2="48.78" stroke="#1f4584" stroke-width="0.9"/>
<line x1="287.00" y1="50.86" x2="287.00" y2="53.46" stroke="#1f4584" stroke-width="0.9"/>
<line x1="290.00" y1="54.45" x2="290.00" y2="57.05" stroke="#1f4584" stroke-width="0.9"/>
<line x1="293.00" y1="58.99" x2="293.00" y2="61.59" stroke="#1f4584" stroke-width="0.9"/>
<line x1="296.00" y1="61.79" x2="296.00" y2="64.39" stroke="#1f4584" stroke-width="0.9"/>
<line x1="300.00" y1="65.92" x2="300.00" y2="68.52" stroke="#1f4584" stroke-width="0.9"/>
<line x1="304.00" y1="69.10" x2="304.00" y2="71.70" stroke="#1f4584" stroke-width="0.9"/>
<line x1="308.00" y1="72.30" x2="308.00" y2="74.90" stroke="#1f4584" stroke-width="0.9"/>
<line x1="312.00" y1="76.30" x2="312.00" y2="78.90" stroke="#1f4584" stroke-width="0.9"/>
<line x1="317.00" y1="82.00" x2="317.00" y2="84.60" stroke="#1f4584" stroke-width="0.9"/>
<line x1="322.00" y1="84.83" x2="322.00" y2="87.43" stroke="#1f4584" stroke-width="0.9"/>
<line x1="327.00" y1="86.28" x2="327.00" y2="88.88" stroke="#1f4584" stroke-width="0.9"/>
<line x1="331.00" y1="88.86" x2="331.00" y2="91.46" stroke="#1f4584" stroke-width="0.9"/>
<line x1="336.00" y1="91.38" x2="336.00" y2="93.98" stroke="#1f4584" stroke-width="0.9"/>
<line x1="343.00" y1="94.67" x2="343.00" y2="97.27" stroke="#1f4584" stroke-width="0.9"/>
<line x1="350.00" y1="95.82" x2="350.00" y2="98.42" stroke="#1f4584" stroke-width="0.9"/>
<line x1="356.00" y1="96.63" x2="356.00" y2="99.23" stroke="#1f4584" stroke-width="0.9"/>
<line x1="362.00" y1="98.20" x2="362.00" y2="100.80" stroke="#1f4584" stroke-width="0.9"/>
<line x1="366.00" y1="99.01" x2="366.00" y2="101.61" stroke="#1f4584" stroke-width="0.9"/>
<line x1="372.00" y1="99.99" x2="372.00" y2="102.59" stroke="#1f4584" stroke-width="0.9"/>
<line x1="377.00" y1="103.10" x2="377.00" y2="105.70" stroke="#1f4584" stroke-width="0.9"/>
<line x1="393.00" y1="105.60" x2="393.00" y2="108.20" stroke="#1f4584" stroke-width="0.9"/>
<line x1="408.00" y1="107.26" x2="408.00" y2="109.86" stroke="#1f4584" stroke-width="0.9"/>
<line x1="414.00" y1="108.50" x2="414.00" y2="111.10" stroke="#1f4584" stroke-width="0.9"/>
<line x1="433.00" y1="112.30" x2="433.00" y2="114.90" stroke="#1f4584" stroke-width="0.9"/>
<line x1="279.00" y1="43.97" x2="279.00" y2="46.37" stroke="#6e3574" stroke-width="0.8"/>
<line x1="283.00" y1="53.32" x2="283.00" y2="55.72" stroke="#6e3574" stroke-width="0.8"/>
<line x1="290.00" y1="67.55" x2="290.00" y2="69.95" stroke="#6e3574" stroke-width="0.8"/>
<line x1="296.00" y1="73.50" x2="296.00" y2="75.90" stroke="#6e3574" stroke-width="0.8"/>
<line x1="303.00" y1="83.67" x2="303.00" y2="86.07" stroke="#6e3574" stroke-width="0.8"/>
<line x1="310.00" y1="91.33" x2="310.00" y2="93.73" stroke="#6e3574" stroke-width="0.8"/>
<line x1="318.00" y1="96.15" x2="318.00" y2="98.55" stroke="#6e3574" stroke-width="0.8"/>
<line x1="328.00" y1="101.44" x2="328.00" y2="103.84" stroke="#6e3574" stroke-width="0.8"/>
<line x1="337.00" y1="105.60" x2="337.00" y2="108.00" stroke="#6e3574" stroke-width="0.8"/>
<line x1="355.00" y1="112.43" x2="355.00" y2="114.83" stroke="#6e3574" stroke-width="0.8"/>
<line x1="376.00" y1="112.55" x2="376.00" y2="114.95" stroke="#6e3574" stroke-width="0.8"/>
<line x1="281.00" y1="49.97" x2="281.00" y2="52.37" stroke="#d89030" stroke-width="0.8"/>
<line x1="286.00" y1="64.90" x2="286.00" y2="67.30" stroke="#d89030" stroke-width="0.8"/>
<line x1="292.00" y1="77.05" x2="292.00" y2="79.45" stroke="#d89030" stroke-width="0.8"/>
<line x1="300.00" y1="92.61" x2="300.00" y2="95.01" stroke="#d89030" stroke-width="0.8"/>
<line x1="309.00" y1="100.92" x2="309.00" y2="103.32" stroke="#d89030" stroke-width="0.8"/>
<line x1="322.00" y1="108.48" x2="322.00" y2="110.88" stroke="#d89030" stroke-width="0.8"/>
<line x1="427.00" y1="116.75" x2="427.00" y2="119.15" stroke="#d89030" stroke-width="0.8"/>
<line x1="434.00" y1="116.80" x2="434.00" y2="119.20" stroke="#d89030" stroke-width="0.8"/>
<line x1="300.90" y1="35.80" x2="312.00" y2="35.80" stroke="#b84a68" stroke-width="1.3"/>
<line x1="306.40" y1="34.60" x2="306.40" y2="37.00" stroke="#333" stroke-width="1.0"/>
<text x="316.00" y="38.00" font-size="6.6" text-anchor="start" fill="#262626" >AML</text>
<text x="360.30" y="38.00" font-size="6.6" text-anchor="end" fill="#262626" >219</text>
<text x="371.60" y="38.00" font-size="6.6" text-anchor="middle" fill="#262626" >4.1</text>
<text x="399.00" y="38.00" font-size="6.6" text-anchor="middle" fill="#262626" >(3.5-5.9)</text>
<line x1="300.90" y1="44.70" x2="312.00" y2="44.70" stroke="#5a3a5e" stroke-width="1.3"/>
<line x1="306.40" y1="43.50" x2="306.40" y2="45.90" stroke="#333" stroke-width="1.0"/>
<text x="316.00" y="46.90" font-size="6.6" text-anchor="start" fill="#262626" >MDS-EB2</text>
<text x="360.30" y="46.90" font-size="6.6" text-anchor="end" fill="#262626" >92</text>
<text x="371.60" y="46.90" font-size="6.6" text-anchor="middle" fill="#262626" >7.4</text>
<text x="399.00" y="46.90" font-size="6.6" text-anchor="middle" fill="#262626" >(6.7-9.6)</text>
<line x1="300.90" y1="53.60" x2="312.00" y2="53.60" stroke="#d8b468" stroke-width="1.3"/>
<line x1="306.40" y1="52.40" x2="306.40" y2="54.80" stroke="#333" stroke-width="1.0"/>
<text x="316.00" y="55.80" font-size="6.6" text-anchor="start" fill="#262626" >MDS-EB1</text>
<text x="360.30" y="55.80" font-size="6.6" text-anchor="end" fill="#262626" >75</text>
<text x="371.60" y="55.80" font-size="6.6" text-anchor="middle" fill="#262626" >9.7</text>
<text x="399.00" y="55.80" font-size="6.6" text-anchor="middle" fill="#262626" >(6.6-13.2)</text>
<line x1="300.90" y1="62.50" x2="312.00" y2="62.50" stroke="#36587a" stroke-width="1.3"/>
<line x1="306.40" y1="61.30" x2="306.40" y2="63.70" stroke="#333" stroke-width="1.0"/>
<text x="316.00" y="64.70" font-size="6.6" text-anchor="start" fill="#262626" >MDS-LB</text>
<text x="360.30" y="64.70" font-size="6.6" text-anchor="end" fill="#262626" >194</text>
<text x="371.60" y="64.70" font-size="6.6" text-anchor="middle" fill="#262626" >14.9</text>
<text x="399.00" y="64.70" font-size="6.6" text-anchor="middle" fill="#262626" >(13-17.9)</text>
<text x="354.20" y="29.00" font-size="6.3" text-anchor="middle" fill="#262626" >N</text>
<text x="372.70" y="29.00" font-size="6.3" text-anchor="middle" fill="#262626" >Median</text>
<text x="398.80" y="29.00" font-size="6.3" text-anchor="middle" fill="#262626" >(95% CI)</text>
<text x="417.30" y="29.00" font-size="6.3" text-anchor="start" fill="#262626" >AML</text>
<text x="446.00" y="29.00" font-size="6.3" text-anchor="start" fill="#262626" >MDS-EB2</text>
<text x="480.00" y="29.00" font-size="6.3" text-anchor="start" fill="#262626" >MDS-EB1</text>
<text x="417.3" y="46.90" font-size="6.6" fill="#262626"><tspan font-style="italic">P</tspan> = .1</text>
<text x="417.3" y="55.80" font-size="6.6" fill="#262626"><tspan font-style="italic">P</tspan> = .003</text>
<text x="448.5" y="55.80" font-size="6.6" fill="#262626"><tspan font-style="italic">P</tspan> = .04</text>
<text x="417.3" y="64.70" font-size="6.6" fill="#262626"><tspan font-style="italic">P</tspan> &lt; .0001</text>
<text x="448.5" y="64.70" font-size="6.6" fill="#262626"><tspan font-style="italic">P</tspan> &lt; .0001</text>
<text x="480" y="64.70" font-size="6.6" fill="#262626"><tspan font-style="italic">P</tspan> = .0008</text>
<text x="355.6" y="81.70" font-size="6.6" fill="#262626"><tspan font-style="italic">P</tspan> &lt; .0001</text>
<text x="251.70" y="165.80" font-size="7.8" text-anchor="start" fill="#262626" >Number at risk</text>
<line x1="251.70" y1="174.90" x2="262.30" y2="174.90" stroke="#d0406a" stroke-width="1.0"/>
<text x="273.00" y="177.40" font-size="7.7" text-anchor="middle" fill="#262626" letter-spacing="0.4">219</text>
<text x="303.80" y="177.40" font-size="7.7" text-anchor="middle" fill="#262626" letter-spacing="0.4">31</text>
<text x="335.00" y="177.40" font-size="7.7" text-anchor="middle" fill="#262626" letter-spacing="0.4">11</text>
<text x="366.10" y="177.40" font-size="7.7" text-anchor="middle" fill="#262626" letter-spacing="0.4">6</text>
<text x="397.30" y="177.40" font-size="7.7" text-anchor="middle" fill="#262626" letter-spacing="0.4">4</text>
<text x="428.80" y="177.40" font-size="7.7" text-anchor="middle" fill="#262626" letter-spacing="0.4">3</text>
<line x1="251.70" y1="187.20" x2="262.30" y2="187.20" stroke="#3a3a3a" stroke-width="1.0"/>
<text x="273.00" y="189.70" font-size="7.7" text-anchor="middle" fill="#262626" letter-spacing="0.4">75</text>
<text x="303.80" y="189.70" font-size="7.7" text-anchor="middle" fill="#262626" letter-spacing="0.4">26</text>
<text x="335.00" y="189.70" font-size="7.7" text-anchor="middle" fill="#262626" letter-spacing="0.4">9</text>
<text x="366.10" y="189.70" font-size="7.7" text-anchor="middle" fill="#262626" letter-spacing="0.4">2</text>
<text x="397.30" y="189.70" font-size="7.7" text-anchor="middle" fill="#262626" letter-spacing="0.4">1</text>
<text x="428.80" y="189.70" font-size="7.7" text-anchor="middle" fill="#262626" letter-spacing="0.4">0</text>
<line x1="251.70" y1="199.50" x2="262.30" y2="199.50" stroke="#f0c878" stroke-width="1.0"/>
<text x="273.00" y="202.00" font-size="7.7" text-anchor="middle" fill="#262626" letter-spacing="0.4">92</text>
<text x="303.80" y="202.00" font-size="7.7" text-anchor="middle" fill="#262626" letter-spacing="0.4">16</text>
<text x="335.00" y="202.00" font-size="7.7" text-anchor="middle" fill="#262626" letter-spacing="0.4">2</text>
<text x="366.10" y="202.00" font-size="7.7" text-anchor="middle" fill="#262626" letter-spacing="0.4">1</text>
<text x="397.30" y="202.00" font-size="7.7" text-anchor="middle" fill="#262626" letter-spacing="0.4">1</text>
<text x="428.80" y="202.00" font-size="7.7" text-anchor="middle" fill="#262626" letter-spacing="0.4">1</text>
<line x1="251.70" y1="211.80" x2="262.30" y2="211.80" stroke="#52739a" stroke-width="1.0"/>
<text x="273.00" y="214.30" font-size="7.7" text-anchor="middle" fill="#262626" letter-spacing="0.4">194</text>
<text x="303.80" y="214.30" font-size="7.7" text-anchor="middle" fill="#262626" letter-spacing="0.4">89</text>
<text x="335.00" y="214.30" font-size="7.7" text-anchor="middle" fill="#262626" letter-spacing="0.4">37</text>
<text x="366.10" y="214.30" font-size="7.7" text-anchor="middle" fill="#262626" letter-spacing="0.4">21</text>
<text x="397.30" y="214.30" font-size="7.7" text-anchor="middle" fill="#262626" letter-spacing="0.4">10</text>
<text x="428.80" y="214.30" font-size="7.7" text-anchor="middle" fill="#262626" letter-spacing="0.4">3</text>
<text x="7.20" y="242.40" font-size="11.2" text-anchor="start" fill="#111" font-weight="bold" >C</text>
<text x="136.00" y="243.00" font-size="9.8" text-anchor="middle" fill="#262626" >Whole cohort: According to VAF cut-off</text>
<line x1="42.00" y1="251.50" x2="42.00" y2="348.80" stroke="#1e1e1e" stroke-width="1.1"/>
<line x1="41.50" y1="348.20" x2="229.40" y2="348.20" stroke="#1e1e1e" stroke-width="1.2"/>
<line x1="38.80" y1="255.20" x2="42.00" y2="255.20" stroke="#1e1e1e" stroke-width="0.9"/>
<text x="36.35" y="257.70" font-size="7.5" text-anchor="end" fill="#262626" letter-spacing="0.35">100</text>
<line x1="38.80" y1="277.27" x2="42.00" y2="277.27" stroke="#1e1e1e" stroke-width="0.9"/>
<text x="36.35" y="279.77" font-size="7.5" text-anchor="end" fill="#262626" letter-spacing="0.35">75</text>
<line x1="38.80" y1="299.35" x2="42.00" y2="299.35" stroke="#1e1e1e" stroke-width="0.9"/>
<text x="36.35" y="301.85" font-size="7.5" text-anchor="end" fill="#262626" letter-spacing="0.35">50</text>
<line x1="38.80" y1="321.43" x2="42.00" y2="321.43" stroke="#1e1e1e" stroke-width="0.9"/>
<text x="36.35" y="323.93" font-size="7.5" text-anchor="end" fill="#262626" letter-spacing="0.35">25</text>
<line x1="38.80" y1="343.50" x2="42.00" y2="343.50" stroke="#1e1e1e" stroke-width="0.9"/>
<text x="36.35" y="346.00" font-size="7.5" text-anchor="end" fill="#262626" letter-spacing="0.35">0</text>
<line x1="50.40" y1="348.20" x2="50.40" y2="350.80" stroke="#1e1e1e" stroke-width="0.9"/>
<text x="50.58" y="361.20" font-size="7.5" text-anchor="middle" fill="#262626" letter-spacing="0.35">0</text>
<line x1="84.60" y1="348.20" x2="84.60" y2="350.80" stroke="#1e1e1e" stroke-width="0.9"/>
<text x="84.78" y="361.20" font-size="7.5" text-anchor="middle" fill="#262626" letter-spacing="0.35">12</text>
<line x1="118.80" y1="348.20" x2="118.80" y2="350.80" stroke="#1e1e1e" stroke-width="0.9"/>
<text x="118.98" y="361.20" font-size="7.5" text-anchor="middle" fill="#262626" letter-spacing="0.35">24</text>
<line x1="153.00" y1="348.20" x2="153.00" y2="350.80" stroke="#1e1e1e" stroke-width="0.9"/>
<text x="153.18" y="361.20" font-size="7.5" text-anchor="middle" fill="#262626" letter-spacing="0.35">36</text>
<line x1="187.20" y1="348.20" x2="187.20" y2="350.80" stroke="#1e1e1e" stroke-width="0.9"/>
<text x="187.38" y="361.20" font-size="7.5" text-anchor="middle" fill="#262626" letter-spacing="0.35">48</text>
<line x1="221.40" y1="348.20" x2="221.40" y2="350.80" stroke="#1e1e1e" stroke-width="0.9"/>
<text x="221.58" y="361.20" font-size="7.5" text-anchor="middle" fill="#262626" letter-spacing="0.35">60</text>
<text transform="translate(14.90,300.10) rotate(-90)" x="0" y="0" font-size="8.8" text-anchor="middle" fill="#262626" stroke="#262626" stroke-width="0.2" textLength="69.20" lengthAdjust="spacingAndGlyphs">Survival probability (%)</text>
<text x="77.30" y="377.70" font-size="10" fill="#262626" stroke="#262626" stroke-width="0.2" textLength="117.50" lengthAdjust="spacingAndGlyphs">Months since diagnosis of <tspan font-style="italic">TP53</tspan><tspan font-style="italic" font-size="6.6" dy="-3.6">MUT</tspan><tspan dy="3.6"> MN</tspan></text>
<polyline points="50.80,255.80 52.30,255.80 52.30,256.40 53.80,256.40 53.80,257.00 55.30,257.00 55.30,258.22 56.80,258.22 56.80,259.76 58.30,259.76 58.30,261.30 59.80,261.30 59.80,263.25 61.30,263.25 61.30,265.24 62.80,265.24 62.80,267.11 64.30,267.11 64.30,268.97 65.80,268.97 65.80,270.86 67.30,270.86 67.30,273.33 68.80,273.33 68.80,275.80 70.30,275.80 70.30,276.20 71.80,276.20 71.80,276.60 73.30,276.60 73.30,277.20 74.80,277.20 74.80,278.34 76.30,278.34 76.30,279.47 77.80,279.47 77.80,281.56 79.30,281.56 79.30,284.25 80.80,284.25 80.80,285.39 82.30,285.39 82.30,286.52 83.80,286.52 83.80,287.32 85.30,287.32 85.30,287.60 86.80,287.60 86.80,287.89 88.30,287.89 88.30,288.18 89.80,288.18 89.80,290.55 91.30,290.55 91.30,293.06 92.80,293.06 92.80,295.58 94.30,295.58 94.30,298.10 95.80,298.10 95.80,298.89 97.30,298.89 97.30,299.26 98.80,299.26 98.80,299.66 100.30,299.66 100.30,300.55 101.80,300.55 101.80,301.45 103.30,301.45 103.30,302.34 104.80,302.34 104.80,302.70 106.30,302.70 106.30,302.70 107.80,302.70 107.80,302.70 109.30,302.70 109.30,302.70 110.80,302.70 110.80,302.70 112.30,302.70 112.30,302.70 113.80,302.70 113.80,303.11 115.30,303.11 115.30,304.12 116.80,304.12 116.80,304.82 118.30,304.82 118.30,304.88 119.80,304.88 119.80,304.93 121.30,304.93 121.30,304.99 122.80,304.99 122.80,305.04 124.30,305.04 124.30,305.10 125.80,305.10 125.80,308.89 127.30,308.89 127.30,309.40 128.80,309.40 128.80,309.40 130.30,309.40 130.30,309.40 131.80,309.40 131.80,309.40 133.30,309.40 133.30,309.40 134.80,309.40 134.80,309.40 136.30,309.40 136.30,309.40 137.80,309.40 137.80,309.40 139.30,309.40 139.30,309.40 140.80,309.40 140.80,311.16 142.30,311.16 142.30,313.04 143.80,313.04 143.80,314.80 145.30,314.80 145.30,314.80 146.80,314.80 146.80,314.80 148.30,314.80 148.30,314.80 149.80,314.80 149.80,314.80 151.30,314.80 151.30,314.80 152.80,314.80 152.80,314.80 154.30,314.80 154.30,314.80 155.80,314.80 155.80,314.80 157.30,314.80 157.30,314.80 158.80,314.80 158.80,314.80 160.30,314.80 160.30,314.80 161.80,314.80 161.80,314.80 163.30,314.80 163.30,314.80 164.80,314.80 164.80,314.80 166.30,314.80 166.30,314.80 167.80,314.80 167.80,314.80 169.30,314.80 169.30,314.80 170.80,314.80 170.80,314.80 172.30,314.80 172.30,314.80 173.80,314.80 173.80,314.80 175.30,314.80 175.30,314.80 176.80,314.80 176.80,314.80 178.30,314.80 178.30,314.80 179.80,314.80 179.80,314.80 181.30,314.80 181.30,314.80 182.80,314.80 182.80,314.80 184.30,314.80 184.30,314.80 185.80,314.80 185.80,314.80 187.30,314.80 187.30,314.80 188.80,314.80 188.80,314.80 190.30,314.80 190.30,320.20 191.80,320.20 191.80,320.20 193.30,320.20 193.30,320.20 194.80,320.20 194.80,320.20 196.30,320.20 196.30,320.20 197.80,320.20 197.80,321.95 199.30,321.95 199.30,326.60 200.80,326.60 200.80,326.60 202.30,326.60 202.30,326.60 203.80,326.60 203.80,326.60 205.30,326.60 205.30,326.60 206.80,326.60 206.80,326.60 208.30,326.60 208.30,326.60 209.80,326.60 209.80,326.60 211.30,326.60 211.30,326.60 212.80,326.60 212.80,326.60 214.30,326.60 214.30,326.60 215.80,326.60 215.80,332.00 217.30,332.00 217.30,332.00 218.80,332.00 218.80,332.00 220.30,332.00 220.30,336.00 221.80,336.00 221.80,339.50 222.30,339.50 222.30,340.00" fill="none" stroke="#8c8cc4" stroke-width="0.9" stroke-linejoin="round" />
<polyline points="50.80,255.80 53.30,262.40 56.40,270.70 59.50,278.90 62.40,286.20 64.50,289.80 68.10,293.40 71.90,299.60 77.00,305.80 83.20,312.00 89.40,316.10 96.70,321.30 104.90,325.40 113.20,328.50 125.00,331.60 128.60,333.10" fill="none" stroke="#d0187a" stroke-width="2.3" stroke-linejoin="round" />
<polyline points="128.60,333.10 130.10,333.10 130.10,333.40 131.60,333.40 131.60,333.69 133.10,333.69 133.10,333.99 134.60,333.99 134.60,334.29 136.10,334.29 136.10,334.58 137.60,334.58 137.60,334.83 139.10,334.83 139.10,334.96 140.60,334.96 140.60,335.08 142.10,335.08 142.10,335.21 143.60,335.21 143.60,335.33 145.10,335.33 145.10,335.46 146.60,335.46 146.60,335.58 148.10,335.58 148.10,335.71 149.60,335.71 149.60,335.81 151.10,335.81 151.10,335.92 152.60,335.92 152.60,336.02 154.10,336.02 154.10,336.13 155.60,336.13 155.60,336.23 157.10,336.23 157.10,336.42 158.60,336.42 158.60,336.76 160.10,336.76 160.10,337.11 161.60,337.11 161.60,337.45 163.10,337.45 163.10,337.80 164.60,337.80 164.60,337.90 166.10,337.90 166.10,338.00 167.60,338.00 167.60,338.09 169.10,338.09 169.10,338.19 170.60,338.19 170.60,338.29 172.10,338.29 172.10,338.39 173.60,338.39 173.60,338.49 175.10,338.49 175.10,338.54 176.60,338.54 176.60,338.59 178.10,338.59 178.10,338.63 179.60,338.63 179.60,338.68 181.10,338.68 181.10,338.73 182.60,338.73 182.60,338.77 184.10,338.77 184.10,338.82 185.60,338.82 185.60,338.86 187.10,338.86 187.10,338.91 188.60,338.91 188.60,338.96 190.10,338.96 190.10,339.00 191.60,339.00 191.60,339.05 193.10,339.05 193.10,339.10 194.60,339.10 194.60,339.14 196.10,339.14 196.10,339.19 197.60,339.19 197.60,339.24 199.10,339.24 199.10,339.28 200.60,339.28 200.60,339.33 202.10,339.33 202.10,339.37 203.60,339.37 203.60,339.42 205.10,339.42 205.10,339.47 206.60,339.47 206.60,339.52 208.10,339.52 208.10,339.57 209.60,339.57 209.60,339.63 211.10,339.63 211.10,339.69 212.60,339.69 212.60,339.75 214.10,339.75 214.10,339.81 215.60,339.81 215.60,339.87 217.10,339.87 217.10,339.93 218.60,339.93 218.60,339.98 220.10,339.98 220.10,340.27 221.60,340.27 221.60,340.63 222.30,340.63 222.30,340.80" fill="none" stroke="#d0187a" stroke-width="1.2" stroke-linejoin="round" />
<line x1="52.00" y1="257.57" x2="52.00" y2="260.37" stroke="#d0187a" stroke-width="1.0"/>
<line x1="54.00" y1="262.87" x2="54.00" y2="265.67" stroke="#d0187a" stroke-width="1.0"/>
<line x1="56.00" y1="268.23" x2="56.00" y2="271.03" stroke="#d0187a" stroke-width="1.0"/>
<line x1="58.00" y1="273.53" x2="58.00" y2="276.33" stroke="#d0187a" stroke-width="1.0"/>
<line x1="60.00" y1="278.76" x2="60.00" y2="281.56" stroke="#d0187a" stroke-width="1.0"/>
<line x1="62.00" y1="283.79" x2="62.00" y2="286.59" stroke="#d0187a" stroke-width="1.0"/>
<line x1="64.00" y1="287.54" x2="64.00" y2="290.34" stroke="#d0187a" stroke-width="1.0"/>
<line x1="66.00" y1="289.90" x2="66.00" y2="292.70" stroke="#d0187a" stroke-width="1.0"/>
<line x1="68.00" y1="291.90" x2="68.00" y2="294.70" stroke="#d0187a" stroke-width="1.0"/>
<line x1="70.00" y1="295.10" x2="70.00" y2="297.90" stroke="#d0187a" stroke-width="1.0"/>
<line x1="73.00" y1="299.54" x2="73.00" y2="302.34" stroke="#d0187a" stroke-width="1.0"/>
<line x1="76.00" y1="303.18" x2="76.00" y2="305.98" stroke="#d0187a" stroke-width="1.0"/>
<line x1="79.00" y1="306.40" x2="79.00" y2="309.20" stroke="#d0187a" stroke-width="1.0"/>
<line x1="82.00" y1="309.40" x2="82.00" y2="312.20" stroke="#d0187a" stroke-width="1.0"/>
<line x1="85.00" y1="311.79" x2="85.00" y2="314.59" stroke="#d0187a" stroke-width="1.0"/>
<line x1="88.00" y1="313.77" x2="88.00" y2="316.57" stroke="#d0187a" stroke-width="1.0"/>
<line x1="91.00" y1="315.84" x2="91.00" y2="318.64" stroke="#d0187a" stroke-width="1.0"/>
<line x1="94.00" y1="317.98" x2="94.00" y2="320.78" stroke="#d0187a" stroke-width="1.0"/>
<line x1="98.00" y1="320.55" x2="98.00" y2="323.35" stroke="#d0187a" stroke-width="1.0"/>
<line x1="102.00" y1="322.55" x2="102.00" y2="325.35" stroke="#d0187a" stroke-width="1.0"/>
<line x1="106.00" y1="324.41" x2="106.00" y2="327.21" stroke="#d0187a" stroke-width="1.0"/>
<line x1="110.00" y1="325.90" x2="110.00" y2="328.70" stroke="#d0187a" stroke-width="1.0"/>
<line x1="114.00" y1="327.31" x2="114.00" y2="330.11" stroke="#d0187a" stroke-width="1.0"/>
<line x1="118.00" y1="328.36" x2="118.00" y2="331.16" stroke="#d0187a" stroke-width="1.0"/>
<line x1="128.00" y1="331.45" x2="128.00" y2="334.25" stroke="#d0187a" stroke-width="1.0"/>
<line x1="137.00" y1="333.36" x2="137.00" y2="336.16" stroke="#d0187a" stroke-width="1.0"/>
<line x1="148.00" y1="334.30" x2="148.00" y2="337.10" stroke="#d0187a" stroke-width="1.0"/>
<line x1="152.00" y1="334.58" x2="152.00" y2="337.38" stroke="#d0187a" stroke-width="1.0"/>
<line x1="156.00" y1="334.86" x2="156.00" y2="337.66" stroke="#d0187a" stroke-width="1.0"/>
<line x1="174.00" y1="337.11" x2="174.00" y2="339.91" stroke="#d0187a" stroke-width="1.0"/>
<line x1="193.00" y1="337.69" x2="193.00" y2="340.49" stroke="#d0187a" stroke-width="1.0"/>
<line x1="206.00" y1="338.09" x2="206.00" y2="340.89" stroke="#d0187a" stroke-width="1.0"/>
<line x1="219.00" y1="338.60" x2="219.00" y2="341.40" stroke="#d0187a" stroke-width="1.0"/>
<line x1="56.00" y1="257.74" x2="56.00" y2="260.14" stroke="#8c8cc4" stroke-width="0.8"/>
<line x1="64.00" y1="267.40" x2="64.00" y2="269.80" stroke="#8c8cc4" stroke-width="0.8"/>
<line x1="74.00" y1="276.53" x2="74.00" y2="278.93" stroke="#8c8cc4" stroke-width="0.8"/>
<line x1="86.00" y1="286.54" x2="86.00" y2="288.94" stroke="#8c8cc4" stroke-width="0.8"/>
<line x1="100.00" y1="299.18" x2="100.00" y2="301.57" stroke="#8c8cc4" stroke-width="0.8"/>
<line x1="110.00" y1="301.50" x2="110.00" y2="303.90" stroke="#8c8cc4" stroke-width="0.8"/>
<line x1="120.00" y1="303.74" x2="120.00" y2="306.14" stroke="#8c8cc4" stroke-width="0.8"/>
<line x1="134.00" y1="308.20" x2="134.00" y2="310.60" stroke="#8c8cc4" stroke-width="0.8"/>
<line x1="145.00" y1="313.60" x2="145.00" y2="316.00" stroke="#8c8cc4" stroke-width="0.8"/>
<line x1="150.00" y1="313.60" x2="150.00" y2="316.00" stroke="#8c8cc4" stroke-width="0.8"/>
<line x1="156.00" y1="313.60" x2="156.00" y2="316.00" stroke="#8c8cc4" stroke-width="0.8"/>
<line x1="158.00" y1="313.60" x2="158.00" y2="316.00" stroke="#8c8cc4" stroke-width="0.8"/>
<line x1="170.00" y1="313.60" x2="170.00" y2="316.00" stroke="#8c8cc4" stroke-width="0.8"/>
<line x1="173.00" y1="313.60" x2="173.00" y2="316.00" stroke="#8c8cc4" stroke-width="0.8"/>
<line x1="88.00" y1="261.40" x2="99.10" y2="261.40" stroke="#c03070" stroke-width="1.3"/>
<line x1="93.50" y1="260.20" x2="93.50" y2="262.60" stroke="#c03070" stroke-width="1.0"/>
<line x1="88.00" y1="269.90" x2="99.10" y2="269.90" stroke="#9a9ac8" stroke-width="1.0"/>
<line x1="93.50" y1="268.80" x2="93.50" y2="271.00" stroke="#9a9ac8" stroke-width="0.8"/>
<text x="103.60" y="263.70" font-size="6.4" text-anchor="start" fill="#262626" >VAF &gt;8%</text>
<text x="103.60" y="272.20" font-size="6.4" text-anchor="start" fill="#262626" >VAF ≤8%</text>
<text x="141.50" y="254.20" font-size="6.3" text-anchor="middle" fill="#262626" >N</text>
<text x="160.50" y="254.20" font-size="6.3" text-anchor="middle" fill="#262626" >Median</text>
<text x="186.40" y="254.20" font-size="6.3" text-anchor="middle" fill="#262626" >(95% CI)</text>
<text x="141.50" y="263.70" font-size="6.4" text-anchor="middle" fill="#262626" >512</text>
<text x="160.90" y="263.70" font-size="6.4" text-anchor="middle" fill="#262626" >7.5</text>
<text x="185.70" y="263.70" font-size="6.4" text-anchor="middle" fill="#262626" >(6.8-8.4)</text>
<text x="146.80" y="272.20" font-size="6.4" text-anchor="end" fill="#262626" >67</text>
<text x="159.70" y="272.20" font-size="6.4" text-anchor="middle" fill="#262626" >17.4</text>
<text x="186.00" y="272.20" font-size="6.4" text-anchor="middle" fill="#262626" >(14.1-48.8)</text>
<text x="118.8" y="292.70" font-size="6.6" fill="#262626"><tspan font-style="italic">P</tspan> &lt; .0001</text>
<text x="28.60" y="391.00" font-size="7.8" text-anchor="start" fill="#262626" >Number at risk</text>
<line x1="28.60" y1="400.80" x2="38.80" y2="400.80" stroke="#b0a8d8" stroke-width="1.0"/>
<line x1="28.60" y1="412.80" x2="38.80" y2="412.80" stroke="#e0508a" stroke-width="1.2"/>
<text x="50.60" y="403.70" font-size="7.7" text-anchor="middle" fill="#262626" letter-spacing="0.4">67</text>
<text x="84.80" y="403.70" font-size="7.7" text-anchor="middle" fill="#262626" letter-spacing="0.4">30</text>
<text x="119.00" y="403.70" font-size="7.7" text-anchor="middle" fill="#262626" letter-spacing="0.4">17</text>
<text x="153.20" y="403.70" font-size="7.7" text-anchor="middle" fill="#262626" letter-spacing="0.4">9</text>
<text x="187.40" y="403.70" font-size="7.7" text-anchor="middle" fill="#262626" letter-spacing="0.4">5</text>
<text x="221.60" y="403.70" font-size="7.7" text-anchor="middle" fill="#262626" letter-spacing="0.4">1</text>
<text x="50.60" y="415.70" font-size="7.7" text-anchor="middle" fill="#262626" letter-spacing="0.4">513</text>
<text x="84.80" y="415.70" font-size="7.7" text-anchor="middle" fill="#262626" letter-spacing="0.4">132</text>
<text x="119.00" y="415.70" font-size="7.7" text-anchor="middle" fill="#262626" letter-spacing="0.4">42</text>
<text x="153.20" y="415.70" font-size="7.7" text-anchor="middle" fill="#262626" letter-spacing="0.4">21</text>
<text x="187.40" y="415.70" font-size="7.7" text-anchor="middle" fill="#262626" letter-spacing="0.4">11</text>
<text x="221.60" y="415.70" font-size="7.7" text-anchor="middle" fill="#262626" letter-spacing="0.4">6</text>
<text x="245.80" y="242.40" font-size="11.2" text-anchor="start" fill="#111" font-weight="bold" >D</text>
<rect x="314.60" y="234.00" width="93.40" height="21.00" fill="#c8c9de"/>
<text x="361.30" y="243.00" font-size="8.15" text-anchor="middle" fill="#262626"><tspan font-style="italic">TP53</tspan><tspan font-size="6" dy="-3.3">mut</tspan><tspan dy="3.3"> VAF ≥2%</tspan></text>
<text x="361.30" y="252.50" font-size="8.15" text-anchor="middle" fill="#262626">(n = 580)</text>
<line x1="361.30" y1="255.00" x2="361.30" y2="263.80" stroke="#222" stroke-width="0.9"/>
<polygon points="359.50,262.60 363.10,262.60 361.30,266.80" fill="#222"/>
<rect x="314.60" y="266.80" width="93.40" height="21.30" fill="#c8c9de"/>
<text x="361.30" y="275.10" font-size="8.15" text-anchor="middle" fill="#262626">WHO-4R categories</text>
<text x="361.30" y="285.10" font-size="8.15" text-anchor="middle" fill="#262626"><tspan font-style="italic">P</tspan> &lt; .001</text>
<line x1="361.30" y1="288.10" x2="361.30" y2="293.70" stroke="#222" stroke-width="0.9"/>
<line x1="299.80" y1="293.70" x2="430.50" y2="293.70" stroke="#222" stroke-width="0.9"/>
<line x1="299.80" y1="293.70" x2="299.80" y2="299.70" stroke="#222" stroke-width="0.9"/>
<polygon points="298.00,298.50 301.60,298.50 299.80,302.70" fill="#222"/>
<line x1="430.50" y1="293.70" x2="430.50" y2="299.70" stroke="#222" stroke-width="0.9"/>
<polygon points="428.70,298.50 432.30,298.50 430.50,302.70" fill="#222"/>
<rect x="265.00" y="302.70" width="69.60" height="14.60" fill="#c8c9de"/>
<text x="299.80" y="312.60" font-size="8.15" text-anchor="middle" fill="#262626">MDS- Low Blast</text>
<rect x="385.20" y="302.70" width="89.60" height="14.60" fill="#c8c9de"/>
<text x="430.00" y="312.60" font-size="8.15" text-anchor="middle" fill="#262626">MDS-EB1, EB2, AML</text>
<line x1="299.80" y1="317.30" x2="299.80" y2="325.70" stroke="#222" stroke-width="0.9"/>
<polygon points="298.00,324.50 301.60,324.50 299.80,328.70" fill="#222"/>
<line x1="430.50" y1="317.30" x2="430.50" y2="325.70" stroke="#222" stroke-width="0.9"/>
<polygon points="428.70,324.50 432.30,324.50 430.50,328.70" fill="#222"/>
<rect x="265.00" y="328.70" width="69.60" height="21.90" fill="#c8c9de"/>
<text x="299.80" y="337.20" font-size="8.15" text-anchor="middle" fill="#262626">Allelic status</text>
<text x="299.80" y="347.00" font-size="8.15" text-anchor="middle" fill="#262626"><tspan font-style="italic">P</tspan> &lt; .001</text>
<rect x="385.20" y="328.70" width="89.60" height="21.90" fill="#c8c9de"/>
<text x="430.00" y="337.80" font-size="8.15" text-anchor="middle" fill="#262626"><tspan font-style="italic">TP53</tspan><tspan font-size="6" dy="-3.3">mut</tspan><tspan dy="3.3"> VAF</tspan></text>
<text x="430.00" y="347.40" font-size="8.15" text-anchor="middle" fill="#262626"><tspan font-style="italic">P</tspan> &lt; .001</text>
<line x1="299.80" y1="350.60" x2="299.80" y2="355.60" stroke="#222" stroke-width="0.9"/>
<line x1="270.80" y1="355.60" x2="317.50" y2="355.60" stroke="#222" stroke-width="0.9"/>
<line x1="270.80" y1="355.60" x2="270.80" y2="361.20" stroke="#222" stroke-width="0.9"/>
<polygon points="269.00,360.00 272.60,360.00 270.80,364.20" fill="#222"/>
<line x1="317.50" y1="355.60" x2="317.50" y2="361.20" stroke="#222" stroke-width="0.9"/>
<polygon points="315.70,360.00 319.30,360.00 317.50,364.20" fill="#222"/>
<line x1="430.50" y1="350.60" x2="430.50" y2="355.70" stroke="#222" stroke-width="0.9"/>
<line x1="391.60" y1="355.70" x2="468.70" y2="355.70" stroke="#222" stroke-width="0.9"/>
<line x1="391.60" y1="355.70" x2="391.60" y2="361.70" stroke="#222" stroke-width="0.9"/>
<polygon points="389.80,360.50 393.40,360.50 391.60,364.70" fill="#222"/>
<line x1="468.70" y1="355.70" x2="468.70" y2="361.70" stroke="#222" stroke-width="0.9"/>
<polygon points="466.90,360.50 470.50,360.50 468.70,364.70" fill="#222"/>
<rect x="245.60" y="364.20" width="47.60" height="33.80" fill="#164f8c"/>
<text x="269.40" y="374.00" font-size="8.15" text-anchor="middle" fill="#fff">Monoallelic</text>
<text x="269.40" y="383.80" font-size="8.15" text-anchor="middle" fill="#fff">mutation</text>
<text x="269.40" y="393.40" font-size="8.15" text-anchor="middle" fill="#fff">(n = 71)</text>
<rect x="295.50" y="364.20" width="47.40" height="33.80" fill="#5f1f66"/>
<text x="319.20" y="374.00" font-size="8.15" text-anchor="middle" fill="#fff">Biallelic</text>
<text x="319.20" y="383.80" font-size="8.15" text-anchor="middle" fill="#fff">inactivation</text>
<text x="319.20" y="393.40" font-size="8.15" text-anchor="middle" fill="#fff">(n = 123)</text>
<rect x="365.80" y="364.70" width="51.90" height="23.90" fill="#c8c9de"/>
<text x="391.75" y="374.60" font-size="8.15" text-anchor="middle" fill="#262626"><tspan font-style="italic">TP53</tspan><tspan font-size="6" dy="-3.3">mut</tspan></text>
<text x="391.75" y="385.20" font-size="8.15" text-anchor="middle" fill="#262626">VAF &lt;10%</text>
<rect x="440.40" y="364.70" width="56.90" height="23.90" fill="#c8c9de"/>
<text x="468.85" y="374.60" font-size="8.15" text-anchor="middle" fill="#262626"><tspan font-style="italic">TP53</tspan><tspan font-size="6" dy="-3.3">mut</tspan></text>
<text x="468.85" y="385.20" font-size="8.15" text-anchor="middle" fill="#262626">VAF ≥10%</text>
<line x1="391.60" y1="388.60" x2="391.60" y2="397.50" stroke="#222" stroke-width="0.9"/>
<polygon points="389.80,396.30 393.40,396.30 391.60,400.50" fill="#222"/>
<line x1="468.70" y1="388.60" x2="468.70" y2="397.50" stroke="#222" stroke-width="0.9"/>
<polygon points="466.90,396.30 470.50,396.30 468.70,400.50" fill="#222"/>
<rect x="365.20" y="400.50" width="52.00" height="29.90" fill="#c8c9de"/>
<text x="391.20" y="413.90" font-size="8.15" text-anchor="middle" fill="#262626">CK</text>
<text x="391.20" y="424.00" font-size="8.15" text-anchor="middle" fill="#262626"><tspan font-style="italic">P</tspan> = .031</text>
<rect x="440.20" y="400.50" width="56.90" height="29.90" fill="#c8c9de"/>
<text x="468.65" y="409.30" font-size="8.15" text-anchor="middle" fill="#262626">WHO-4R</text>
<text x="468.65" y="418.60" font-size="8.15" text-anchor="middle" fill="#262626">categories</text>
<text x="468.65" y="428.20" font-size="8.15" text-anchor="middle" fill="#262626"><tspan font-style="italic">P</tspan> = .017</text>
<line x1="368.40" y1="430.40" x2="368.40" y2="440.10" stroke="#222" stroke-width="0.9"/>
<polygon points="366.60,438.90 370.20,438.90 368.40,443.10" fill="#222"/>
<line x1="402.00" y1="430.40" x2="402.00" y2="440.10" stroke="#222" stroke-width="0.9"/>
<polygon points="400.20,438.90 403.80,438.90 402.00,443.10" fill="#222"/>
<line x1="447.40" y1="430.40" x2="447.40" y2="440.10" stroke="#222" stroke-width="0.9"/>
<polygon points="445.60,438.90 449.20,438.90 447.40,443.10" fill="#222"/>
<line x1="494.30" y1="430.40" x2="494.30" y2="440.10" stroke="#222" stroke-width="0.9"/>
<polygon points="492.50,438.90 496.10,438.90 494.30,443.10" fill="#222"/>
<rect x="349.60" y="443.10" width="31.30" height="33.20" fill="#164f8c"/>
<text x="365.25" y="457.50" font-size="8.15" text-anchor="middle" fill="#fff">No</text>
<text x="365.25" y="467.40" font-size="8.15" text-anchor="middle" fill="#fff">(n = 16)</text>
<rect x="385.80" y="443.10" width="32.40" height="33.20" fill="#f4920a"/>
<text x="402.00" y="457.50" font-size="8.15" text-anchor="middle" fill="#3c2a12">Yes</text>
<text x="402.00" y="467.40" font-size="8.15" text-anchor="middle" fill="#3c2a12">(n = 22)</text>
<rect x="426.50" y="443.10" width="42.60" height="33.20" fill="#f4920a"/>
<text x="447.80" y="452.40" font-size="8.15" text-anchor="middle" fill="#3c2a12">MDS-EB1</text>
<text x="447.80" y="461.70" font-size="8.15" text-anchor="middle" fill="#3c2a12">/EB2</text>
<text x="447.80" y="471.30" font-size="8.15" text-anchor="middle" fill="#3c2a12">(n = 149)</text>
<rect x="475.00" y="443.10" width="37.80" height="33.20" fill="#c80025"/>
<text x="493.90" y="457.20" font-size="8.15" text-anchor="middle" fill="#fff">AML</text>
<text x="493.90" y="467.00" font-size="8.15" text-anchor="middle" fill="#fff">(n = 199)</text>
</svg></div></body></html>
